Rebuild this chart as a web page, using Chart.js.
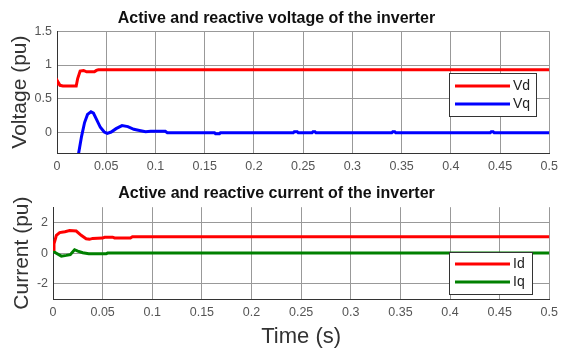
<!DOCTYPE html>
<html lang="en">
<head>
  <meta charset="UTF-8" />
  <title>Inverter voltage and current</title>
  <script src="https://cdn.jsdelivr.net/npm/chart.js"></script>
  <style>
    body { margin: 0; background: #fff; }
    .wrap { position: relative; width: 564px; height: 352px; }
    canvas { position: absolute; left: 0; }
  </style>
</head>
<body>
  <div class="wrap">
    <canvas id="voltageChart" width="564" height="176" style="top:0"></canvas>
    <canvas id="currentChart" width="564" height="176" style="top:176px"></canvas>
  </div>

  <script>
    // tick labels
    const timeTicks = [0, 0.05, 0.1, 0.15, 0.2, 0.25, 0.3, 0.35, 0.4, 0.45, 0.5];
    const voltageTicks = [0, 0.5, 1, 1.5];
    const currentTicks = [-2, 0, 2];

    // Vd / Vq
    const vdTime   = [0, 0.001, 0.003, 0.006, 0.0195, 0.021, 0.0235, 0.027, 0.030, 0.038, 0.040, 0.042, 0.5];
    const vdValues = [0.72, 0.75, 0.70, 0.69, 0.69, 0.80, 0.91, 0.92, 0.90, 0.90, 0.92, 0.93, 0.93];

    const vqTime   = [0.0205, 0.022, 0.025, 0.028, 0.031, 0.0345, 0.037, 0.040, 0.044, 0.048, 0.051, 0.055,
                      0.060, 0.066, 0.072, 0.078, 0.085, 0.090, 0.095, 0.110, 0.112, 0.160, 0.161, 0.165,
                      0.166, 0.240, 0.241, 0.244, 0.245, 0.259, 0.260, 0.262, 0.263, 0.340, 0.341, 0.343,
                      0.344, 0.440, 0.441, 0.443, 0.444, 0.5];
    const vqValues = [-0.5, -0.3, -0.05, 0.15, 0.27, 0.31, 0.29, 0.20, 0.08, 0.01, -0.01, 0.01,
                      0.06, 0.105, 0.09, 0.05, 0.03, 0.015, 0.02, 0.02, 0.0, 0.0, -0.015, -0.015,
                      0.0, 0.0, 0.015, 0.015, 0.0, 0.0, 0.015, 0.015, 0.0, 0.0, 0.015, 0.015,
                      0.0, 0.0, 0.015, 0.015, 0.0, 0.0];

    // Id / Iq
    const idTime   = [0, 0.001, 0.0034, 0.0067, 0.012, 0.0167, 0.0234, 0.0284, 0.0334, 0.0367, 0.040, 0.050,
                      0.052, 0.060, 0.062, 0.078, 0.080, 0.5];
    const idValues = [0.25, 0.6, 1.16, 1.34, 1.40, 1.47, 1.44, 1.16, 0.94, 0.90, 0.96, 0.98,
                      1.03, 1.04, 0.99, 0.99, 1.07, 1.07];

    const iqTime   = [0, 0.003, 0.0084, 0.0134, 0.0174, 0.0217, 0.025, 0.030, 0.036, 0.0535, 0.055, 0.5];
    const iqValues = [0.15, 0.0, -0.2, -0.15, -0.1, 0.22, 0.13, 0.02, -0.04, -0.05, 0.0, 0.0];

    const toPoints = (xs, ys) => xs.map((x, i) => ({ x: x, y: ys[i] }));
    const fmt = v => String(+v.toFixed(2));

    const boxLegend = {
      id: "boxLegend",
      afterDraw(chart, args, opts) {
        const ctx = chart.ctx;
        ctx.save();
        ctx.fillStyle = "#fff";
        ctx.fillRect(opts.x, opts.y, opts.w, opts.h);
        ctx.strokeStyle = "#333";
        ctx.lineWidth = 1;
        ctx.strokeRect(opts.x + 0.5, opts.y + 0.5, opts.w, opts.h);
        ctx.font = "14px 'Liberation Sans', Arial, sans-serif";
        ctx.textBaseline = "middle";
        chart.data.datasets.forEach((ds, i) => {
          const y = opts.y + opts.first + i * opts.gap;
          ctx.strokeStyle = ds.borderColor;
          ctx.lineWidth = 3;
          ctx.beginPath();
          ctx.moveTo(opts.x + 6, y);
          ctx.lineTo(opts.x + 61, y);
          ctx.stroke();
          ctx.fillStyle = "#222";
          ctx.fillText(ds.label, opts.x + 64, y);
        });
        ctx.restore();
      }
    };

    function makeChart(id, cfg) {
      return new Chart(document.getElementById(id), {
        type: "line",
        data: { datasets: cfg.datasets },
        plugins: [boxLegend],
        options: {
          responsive: false,
          animation: false,
          layout: { padding: { left: 0, right: 11, top: 0, bottom: 0 } },
          elements: {
            point: { radius: 0 },
            line: { borderWidth: 3, tension: 0 }
          },
          plugins: {
            legend: { display: false },
            tooltip: { enabled: false },
            title: {
              display: true,
              text: cfg.title,
              color: "#111",
              font: { family: "'Liberation Sans', Arial, sans-serif", size: 16, weight: "bold" },
              padding: cfg.titlePad
            },
            boxLegend: cfg.legend
          },
          scales: {
            x: {
              type: "linear",
              min: 0,
              max: 0.5,
              afterBuildTicks: s => { s.ticks = timeTicks.map(v => ({ value: v })); },
              afterFit: s => { s.height = cfg.xHeight; },
              grid: { color: "#999", lineWidth: 1, drawTicks: false },
              border: { color: "#333", width: 1 },
              ticks: {
                callback: fmt,
                color: "#555",
                padding: cfg.xTickPad,
                maxRotation: 0,
                font: { family: "'Liberation Sans', Arial, sans-serif", size: 12.5 }
              },
              title: cfg.xTitle
                ? {
                    display: true,
                    text: cfg.xTitle,
                    color: "#333",
                    padding: { top: 0, bottom: 2 },
                    font: { family: "'Liberation Sans', Arial, sans-serif", size: 22 }
                  }
                : { display: false }
            },
            y: {
              min: cfg.yMin,
              max: cfg.yMax,
              afterBuildTicks: s => { s.ticks = cfg.yTicks.map(v => ({ value: v })); },
              afterFit: s => { s.width = cfg.yWidth; },
              grid: { color: "#999", lineWidth: 1, drawTicks: false },
              border: { color: "#333", width: 1 },
              ticks: {
                callback: fmt,
                color: "#555",
                padding: 5,
                font: { family: "'Liberation Sans', Arial, sans-serif", size: 12.5 }
              },
              title: {
                display: true,
                text: cfg.yTitle,
                color: "#333",
                padding: { top: cfg.yTitlePad, bottom: 0 },
                font: { family: "'Liberation Sans', Arial, sans-serif", size: 21 }
              }
            }
          }
        }
      });
    }

    makeChart("voltageChart", {
      title: "Active and reactive voltage of the inverter",
      titlePad: { top: 9, bottom: 3 },
      datasets: [
        { label: "Vd", data: toPoints(vdTime, vdValues), borderColor: "#ff0000" },
        { label: "Vq", data: toPoints(vqTime, vqValues), borderColor: "#0000ff" }
      ],
      yMin: -0.3, yMax: 1.5, yTicks: voltageTicks, yWidth: 57,
      yTitle: "Voltage (pu)", yTitlePad: 8,
      xHeight: 23, xTickPad: 6,
      legend: { x: 449, y: 73, w: 87, h: 43, first: 13, gap: 18 }
    });

    makeChart("currentChart", {
      title: "Active and reactive current of the inverter",
      titlePad: { top: 8, bottom: 4 },
      datasets: [
        { label: "Id", data: toPoints(idTime, idValues), borderColor: "#ff0000" },
        { label: "Iq", data: toPoints(iqTime, iqValues), borderColor: "#008000" }
      ],
      yMin: -3, yMax: 3, yTicks: currentTicks, yWidth: 53,
      yTitle: "Current (pu)", yTitlePad: 10,
      xHeight: 53, xTickPad: 6, xTitle: "Time (s)",
      legend: { x: 449, y: 76, w: 83, h: 42, first: 12, gap: 18 }
    });
  </script>
</body>
</html>
